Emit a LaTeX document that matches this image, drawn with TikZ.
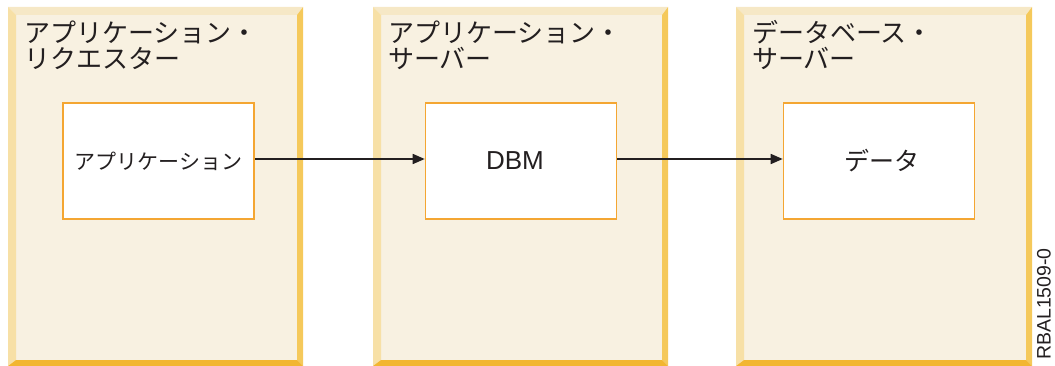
\documentclass[tikz,border=0pt]{standalone}
\usepackage{fontspec}
\setmainfont{Liberation Sans}
\newfontfamily\jp{Noto Sans CJK JP}
\usetikzlibrary{arrows.meta}
\definecolor{panelfill}{HTML}{F8F1E1}
\definecolor{bevtop}{HTML}{F6E8C6}
\definecolor{bevleft}{HTML}{F7E0A6}
\definecolor{bevright}{HTML}{F5C95B}
\definecolor{bevbot}{HTML}{F2B631}
\definecolor{boxline}{HTML}{F4A632}
\definecolor{ink}{HTML}{231F20}
\newcommand\bevpanel[2]{%
  \fill[panelfill] (#1+8,15) rectangle (#2-6,360);
  \fill[bevtop] (#1,7) -- (#2,7) -- (#2-6,15) -- (#1+8,15) -- cycle;
  \fill[bevleft] (#1,7) -- (#1+8,15) -- (#1+8,360) -- (#1,366) -- cycle;
  \fill[bevright] (#2,7) -- (#2,366) -- (#2-6,360) -- (#2-6,15) -- cycle;
  \fill[bevbot] (#1,366) -- (#2,366) -- (#2-6,360) -- (#1+8,360) -- cycle;
}
\tikzset{
  title/.style={anchor=base west, inner sep=0pt, text=ink, font=\jp\fontsize{26}{26}\selectfont},
  inbox/.style={draw=boxline, fill=white, line width=1.6pt, minimum width=191pt, minimum height=116pt, inner sep=0pt, text=ink},
  conn/.style={draw=ink, line width=1.6pt, -{Triangle[length=12pt,width=10pt]}},
}
\begin{document}
\begin{tikzpicture}[x=1pt,y=-1pt]
\useasboundingbox (0,0) rectangle (1055,366);
\bevpanel{8}{303}
\bevpanel{373}{668}
\bevpanel{736}{1032}
\node[title] (t1a) at (24,43) {アプリケーション・};
\node[title] (t1b) at (24,69) {リクエスター};
\node[title] (t2a) at (388,43) {アプリケーション・};
\node[title] (t2b) at (388,69) {サーバー};
\node[title] (t3a) at (752,43) {データベース・};
\node[title] (t3b) at (752,69) {サーバー};
\node[inbox, font=\jp\fontsize{21}{21}\selectfont] (app) at (158.5,161) {アプリケーション};
\node[inbox, font=\fontsize{26}{26}\selectfont] (dbm) at (521,161) {\raisebox{1pt}{DBM}\hspace*{12pt}};
\node[inbox, font=\jp\fontsize{25}{25}\selectfont] (data) at (879,161) {\hspace*{6pt}データ};
\draw[conn] (app.east |- 0,159) -- (dbm.west |- 0,159);
\draw[conn] (dbm.east |- 0,159) -- (data.west |- 0,159);
\node[rotate=90, text=ink, inner sep=0pt, font=\fontsize{19.5}{19.5}\selectfont] (code) at (1044,304) {RBAL1509-0};
\end{tikzpicture}
\end{document}
